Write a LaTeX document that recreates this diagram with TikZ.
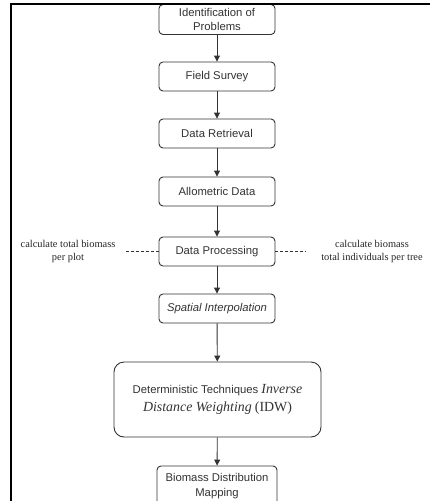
\documentclass[tikz,border=0pt]{standalone}
\usepackage{fontspec}
\setmainfont{Liberation Sans}
\newfontfamily\serif{Liberation Serif}
\usetikzlibrary{arrows.meta}
\definecolor{ink}{HTML}{333333}
\begin{document}
\begin{tikzpicture}[x=1pt,y=-1pt,
  box/.style={draw=ink, line width=0.9pt, rounded corners=4pt, minimum width=116pt, minimum height=29pt,
    align=center, font=\fontsize{11.3}{14.5}\selectfont, text=ink, inner sep=1pt},
  arr/.style={draw=ink, line width=0.9pt, -{Triangle[length=6pt,width=6pt]}},
  side/.style={align=center, font=\serif\fontsize{10.4}{13}\selectfont, text=black!85, inner sep=0pt},
  sideline/.style={draw=ink, line width=0.7pt, dash pattern=on 3pt off 2pt},
  frame/.style={draw=black, line width=2pt}
]
\clip (0,0) rectangle (430,501);
\fill[white] (0,0) rectangle (430,501);

\node[box, minimum height=30pt] (b1) at (217,19.5) {Identification of\\Problems};
\node[box] (b2) at (217,76.5) {Field Survey};
\node[box] (b3) at (217,133.5) {Data Retrieval};
\node[box] (b4) at (217,191.5) {Allometric Data};
\node[box] (b5) at (217,251.5) {Data Processing};
\node[box] (b6) at (217,308.5) {\itshape Spatial Interpolation};
\node[box, minimum width=207pt, minimum height=75pt, rounded corners=10pt,
      font=\fontsize{11.3}{18}\selectfont] (b7) at (217.5,399.5)
  {Deterministic Techniques {\serif\itshape\fontsize{13.9}{18}\selectfont Inverse}\\
   {\serif\itshape\fontsize{13.9}{18}\selectfont Distance Weighting} {\serif\fontsize{13.9}{18}\selectfont (IDW)}};
\node[box, minimum width=120pt, minimum height=40pt] (b8) at (217,486) {Biomass Distribution\\Mapping};

\node[side] (l) at (68,251.5) {calculate total biomass\\per plot};
\node[side] (r) at (372,251.5) {calculate biomass\\total individuals per tree};
\coordinate (lc) at (126,251.5);
\coordinate (rc) at (306,251.5);
\draw[sideline] (b5.west) -- (lc);
\draw[sideline] (b5.east) -- (rc);

\draw[arr] (b1) -- (b2);
\draw[arr] (b2) -- (b3);
\draw[arr] (b3) -- (b4);
\draw[arr] (b4) -- (b5);
\draw[arr] (b5) -- (b6);
\draw[arr] (b6) -- (b7);
\draw[arr] (b7) -- (b8);

\coordinate (f1) at (11,501);
\coordinate (f2) at (11,4);
\coordinate (f3) at (430,4);
\draw[frame] (f1) -- (f2) -- (f3);
\end{tikzpicture}
\end{document}
